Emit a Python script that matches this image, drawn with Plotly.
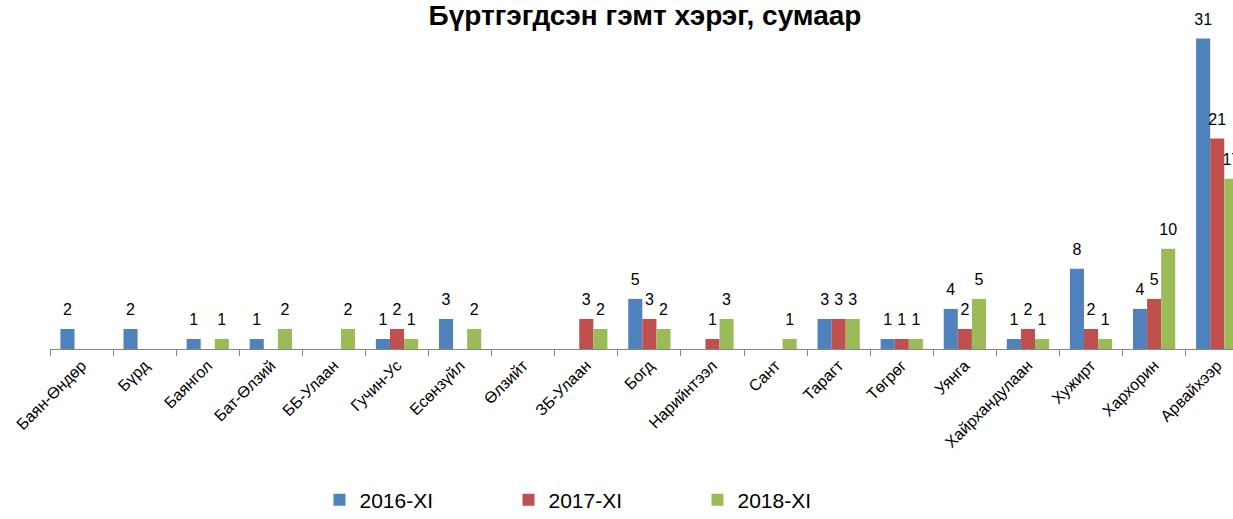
import plotly.graph_objects as go

categories = ["Баян-Өндөр", "Бүрд", "Баянгол", "Бат-Өлзий", "ББ-Улаан", "Гучин-Ус",
              "Есөнзүйл", "Өлзийт", "ЗБ-Улаан", "Богд", "Нарийнтээл", "Сант",
              "Тарагт", "Төгрөг", "Уянга", "Хайрхандулаан", "Хужирт", "Хархорин", "Арвайхээр"]
v2016 = [2, 2, 1, 1, 0, 1, 3, 0, 0, 5, 0, 0, 3, 1, 4, 1, 8, 4, 31]
v2017 = [0, 0, 0, 0, 0, 2, 0, 0, 3, 3, 1, 0, 3, 1, 2, 2, 2, 5, 21]
v2018 = [0, 0, 1, 2, 2, 1, 2, 0, 2, 2, 3, 1, 3, 1, 5, 1, 1, 10, 17]
series_names = ["2016-XI", "2017-XI", "2018-XI"]
colors = ["#4F81BD", "#C0504D", "#9BBB59"]

FONT = "Liberation Sans, Arial, sans-serif"
W, H = 1233, 519

fig = go.Figure()
for name, vals, col in zip(series_names, [v2016, v2017, v2018], colors):
    fig.add_trace(go.Bar(
        x=categories, y=vals, name=name, offsetgroup=name,
        marker=dict(color=col, line=dict(width=0)),
    ))
for name, vals in zip(series_names, [v2016, v2017, v2018]):
    fig.add_trace(go.Scatter(
        x=categories, y=vals, name=name, offsetgroup=name, showlegend=False,
        mode="markers+text", text=[str(v) if v else "" for v in vals],
        textposition="top center", cliponaxis=False, hoverinfo="skip",
        marker=dict(size=14, opacity=0),
        textfont=dict(size=16, color="black", family=FONT),
    ))

fig.update_layout(
    width=W, height=H,
    margin=dict(l=50, r=0, t=30, b=170, autoexpand=False),
    paper_bgcolor="white", plot_bgcolor="white",
    barmode="group", bargap=0.33, bargroupgap=0,
    scattermode="group", scattergap=0.33,
    font=dict(family=FONT, color="black"),
    title=dict(text="<b>Бүртгэгдсэн гэмт хэрэг, сумаар</b>", font=dict(size=28, family=FONT, color="black"),
               xref="container", x=645 / W, xanchor="center",
               yref="container", y=1 - 15 / H, yanchor="middle"),
    xaxis=dict(range=[-0.5, 18.25], showline=True, linecolor="#868686", linewidth=1,
               ticks="outside", tickson="boundaries", ticklen=6, tickcolor="#868686",
               tickangle=-45, tickfont=dict(size=16, family=FONT, color="black"),
               showgrid=False, zeroline=False, automargin=False),
    yaxis=dict(range=[0, (349 - 30) / 10.02], visible=False, showgrid=False, zeroline=False,
               automargin=False),
    legend=dict(orientation="h", xref="container", yref="container",
                x=603 / W, xanchor="center", y=1 - 500 / H, yanchor="middle",
                font=dict(size=21, family=FONT, color="black"),
                entrywidth=144, entrywidthmode="pixels", itemwidth=30),
    showlegend=True,
)

fig.write_html("out.html", config={"displayModeBar": False},
               post_script="document.body.style.margin='0px';")
